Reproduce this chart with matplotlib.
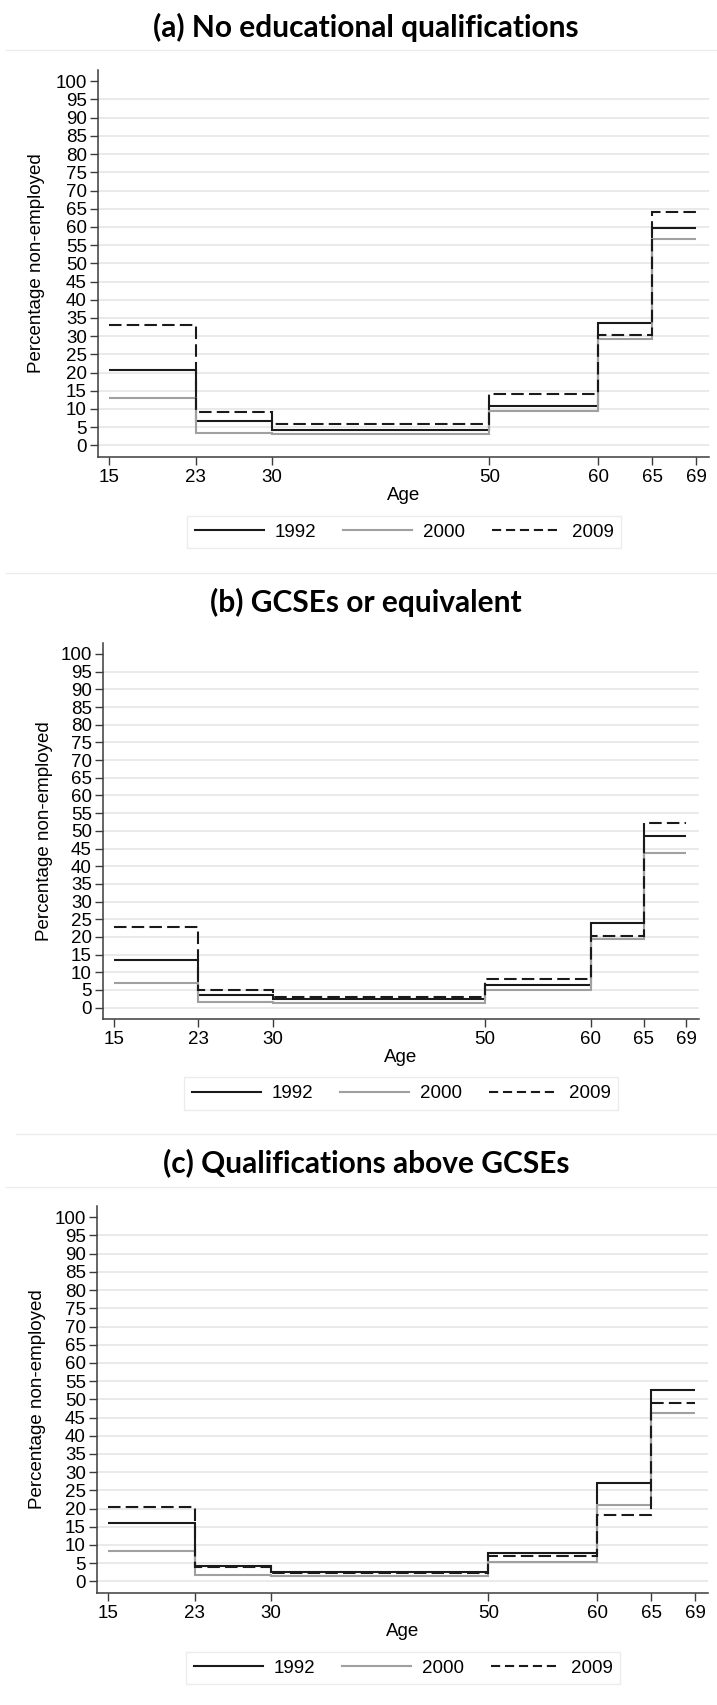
import matplotlib
matplotlib.use("Agg")
import matplotlib.pyplot as plt
from matplotlib.lines import Line2D

# Age-band edges shared by all panels
age_edges = [15, 23, 30, 50, 60, 65, 69]
age_ticks = [15, 23, 30, 50, 60, 65, 69]
y_ticks = list(range(0, 101, 5))
years = ["1992", "2000", "2009"]

# Percentage non-employed by age band
no_qual_1992 = [20.7, 6.6, 4.3, 10.9, 33.5, 59.7]
no_qual_2000 = [12.9, 3.3, 3.0, 9.4, 29.3, 56.6]
no_qual_2009 = [33.0, 9.2, 5.9, 14.0, 30.3, 64.2]

gcse_1992 = [13.6, 3.5, 2.4, 6.4, 23.9, 48.6]
gcse_2000 = [7.1, 1.5, 1.3, 4.9, 19.3, 43.6]
gcse_2009 = [22.7, 5.1, 3.0, 8.1, 20.4, 52.1]

above_1992 = [15.9, 4.3, 2.7, 7.8, 27.1, 52.5]
above_2000 = [8.2, 1.7, 1.5, 5.4, 20.9, 46.2]
above_2009 = [20.4, 4.0, 2.3, 7.0, 18.2, 49.1]

titles = ["(a) No educational qualifications",
          "(b) GCSEs or equivalent",
          "(c) Qualifications above GCSEs"]

plt.rcParams["font.family"] = ["Liberation Sans", "DejaVu Sans"]

W, H = 717, 1705
fig = plt.figure(figsize=(W / 100, H / 100), dpi=100)
fig.patch.set_facecolor("white")

styles = [
    dict(color="#1a1a1a", lw=1.5, ls="-", leg_ls="-"),
    dict(color="#a0a0a0", lw=1.5, ls="-", leg_ls="-"),
    dict(color="#1a1a1a", lw=1.5, ls=(0, (6, 2.5)), leg_ls=(0, (4.4, 2.3))),
]

# pixel layout of each panel: axes box, title, y-label, tick labels, legend
panels = [
    dict(data=[no_qual_1992, no_qual_2000, no_qual_2009],
         box=(98, 709, 70, 457), title_y=27, ylab_x=37,
         age_y=495, legend=(188, 620, 515, 549)),
    dict(data=[gcse_1992, gcse_2000, gcse_2009],
         box=(103, 699, 643, 1019), title_y=602, ylab_x=45,
         age_y=1058, legend=(190, 612, 1077, 1110)),
    dict(data=[above_1992, above_2000, above_2009],
         box=(97, 708, 1206, 1593), title_y=1163, ylab_x=38,
         age_y=1632, legend=(188, 618, 1651, 1685)),
]

tick_fs = 13.5
spine_col = "#3c3c3c"

for p, title in zip(panels, titles):
    l, r, t, b = p["box"]
    ax = fig.add_axes([l / W, 1 - b / H, (r - l) / W, (b - t) / H])
    ax.set_xlim(14.0, 70.2)
    ax.set_ylim(-3.2, 103.1)

    for y in y_ticks[:-1]:
        ax.axhline(y, color="#e6e6e6", lw=1.2, zorder=0)

    handles = []
    for vals, st, yr in zip(p["data"], styles, years):
        ax.stairs(vals, age_edges, baseline=None, color=st["color"],
                  lw=st["lw"], ls=st["ls"], zorder=2)
        handles.append(Line2D([], [], color=st["color"], lw=st["lw"],
                              ls=st["leg_ls"], label=yr))

    ax.set_xticks(age_ticks)
    ax.set_yticks(y_ticks)
    ax.tick_params(axis="both", direction="out", length=6, width=1.0,
                   color=spine_col, labelsize=tick_fs, pad=2)
    ax.tick_params(axis="x", pad=3)
    for side in ("top", "right"):
        ax.spines[side].set_visible(False)
    for side in ("left", "bottom"):
        ax.spines[side].set_color(spine_col)
        ax.spines[side].set_linewidth(1.1)
    ax.set_facecolor("white")

    cx = (l + r) / 2
    fig.text(366 / W, 1 - p["title_y"] / H, title, ha="center", va="center",
             fontsize=21.5, fontweight="bold", family=["Lato", "DejaVu Sans"])
    fig.text(p["ylab_x"] / W, 1 - ((t + b) / 2) / H, "Percentage non-employed",
             rotation=90, ha="center", va="center", fontsize=tick_fs)
    fig.text(cx / W, 1 - p["age_y"] / H, "Age", ha="center", va="center",
             fontsize=tick_fs)

    ll, lr, lt, lb = p["legend"]
    leg = fig.legend(handles=handles, loc="center", ncol=3,
                     bbox_to_anchor=((ll + lr) / 2 / W, 1 - (lt + lb) / 2 / H),
                     fontsize=tick_fs, frameon=True, fancybox=False,
                     handlelength=3.7, handletextpad=0.55, columnspacing=1.45,
                     borderpad=0.4)
    leg.get_frame().set_edgecolor("#e8e8e8")
    leg.get_frame().set_linewidth(1.0)

# faint divider rules between panels
for y, x0 in [(50, 6), (573, 6), (1134, 16), (1187, 6)]:
    fig.add_artist(Line2D([x0 / W, 1], [1 - y / H, 1 - y / H],
                          color="#ececec", lw=1.0))

fig.savefig("out.png", dpi=100, facecolor="white")
